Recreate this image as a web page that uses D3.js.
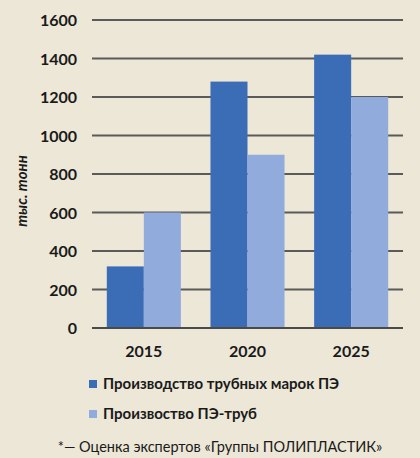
<!DOCTYPE html>
<html><head><meta charset="utf-8">
<script src="https://cdn.jsdelivr.net/npm/d3@7"></script>
<style>
html,body{margin:0;padding:0;background:#ece7d6;}
svg{display:block;}
</style></head>
<body>
<svg id="chart" width="420" height="458"></svg>
<script>
const categories = ["2015", "2020", "2025"];
const seriesNames = ["Производство трубных марок ПЭ", "Произвоство ПЭ-труб"];
const seriesPolymer = [320, 1280, 1420];
const seriesPipes = [600, 900, 1200];
const yTicks = [0, 200, 400, 600, 800, 1000, 1200, 1400, 1600];
const yLabel = "тыс. тонн";
const footnote = "*— Оценка экспертов «Группы ПОЛИПЛАСТИК»";
const colors = ["#3b6db6", "#91abdc"];

const svg = d3.select("#chart");
svg.append("rect").attr("width",420).attr("height",458).attr("fill","#ece7d6");
const font = "Lato, 'Open Sans', sans-serif";

const x0 = d3.scaleBand().domain(categories).range([92, 403]).padding(0);
const x1 = d3.scaleBand().domain([0,1]).range([0, x0.bandwidth()]).paddingOuter(0.4).paddingInner(0);
const y = d3.scaleLinear().domain([0,1600]).range([328, 20]);

// grid
svg.append("g").selectAll("line").data(yTicks).join("line")
  .attr("x1", 92).attr("x2", 403)
  .attr("y1", d=>y(d)).attr("y2", d=>y(d))
  .attr("stroke", "#5a5a58").attr("stroke-width", 2);

// y tick labels
const yAxis = d3.axisLeft(y).tickValues(yTicks).tickSize(0).tickPadding(0).tickFormat(d3.format("d"));
const ga = svg.append("g").attr("transform","translate(77,0)").call(yAxis);
ga.select(".domain").remove();
ga.selectAll("text").attr("font-family", font).attr("font-weight","bold").attr("font-size",16).attr("fill","#1a1a1a").attr("dy","0.35em");

// bars
const data = categories.map((c,i)=>({cat:c, vals:[seriesPolymer[i], seriesPipes[i]]}));
const groups = svg.append("g").selectAll("g").data(data).join("g")
  .attr("transform", d=>`translate(${x0(d.cat)},0)`);
groups.selectAll("rect").data(d=>d.vals.map((v,k)=>({v,k}))).join("rect")
  .attr("x", d=>x1(d.k)).attr("width", x1.bandwidth())
  .attr("y", d=>y(d.v)).attr("height", d=>y(0)-y(d.v))
  .attr("fill", d=>colors[d.k]);

// baseline
svg.append("line").attr("x1",92).attr("x2",403).attr("y1",y(0)).attr("y2",y(0))
  .attr("stroke","#4a4a48").attr("stroke-width",2);

// x labels
const xAxis = d3.axisBottom(x0).tickSize(0).tickPadding(0);
const gx = svg.append("g").attr("transform","translate(0,346)").call(xAxis);
gx.select(".domain").remove();
gx.selectAll("text").attr("font-family", font).attr("font-weight","bold").attr("font-size",16).attr("fill","#1a1a1a").attr("dy","0.71em");

// y label
svg.append("text").attr("transform","translate(27,191) rotate(-90)")
  .attr("text-anchor","middle").attr("font-family",font).attr("font-weight","bold").attr("font-style","italic")
  .attr("font-size",15).attr("fill","#1a1a1a").text(yLabel);

// legend
const legY = [384, 414];
seriesNames.forEach((n,i)=>{
  svg.append("rect").attr("x",89).attr("y",legY[i]-4).attr("width",8).attr("height",8).attr("fill",colors[i]);
  svg.append("text").attr("x",103).attr("y",legY[i]).attr("dy","0.35em")
    .attr("font-family",font).attr("font-weight","bold").attr("font-size",15).attr("fill","#1a1a1a").text(n);
});

// footnote
svg.append("text").attr("x",220).attr("y",447).attr("dy","0.35em").attr("text-anchor","middle")
  .attr("font-family",font).attr("font-size",14.5).attr("fill","#1a1a1a").text(footnote);
</script>
</body></html>
